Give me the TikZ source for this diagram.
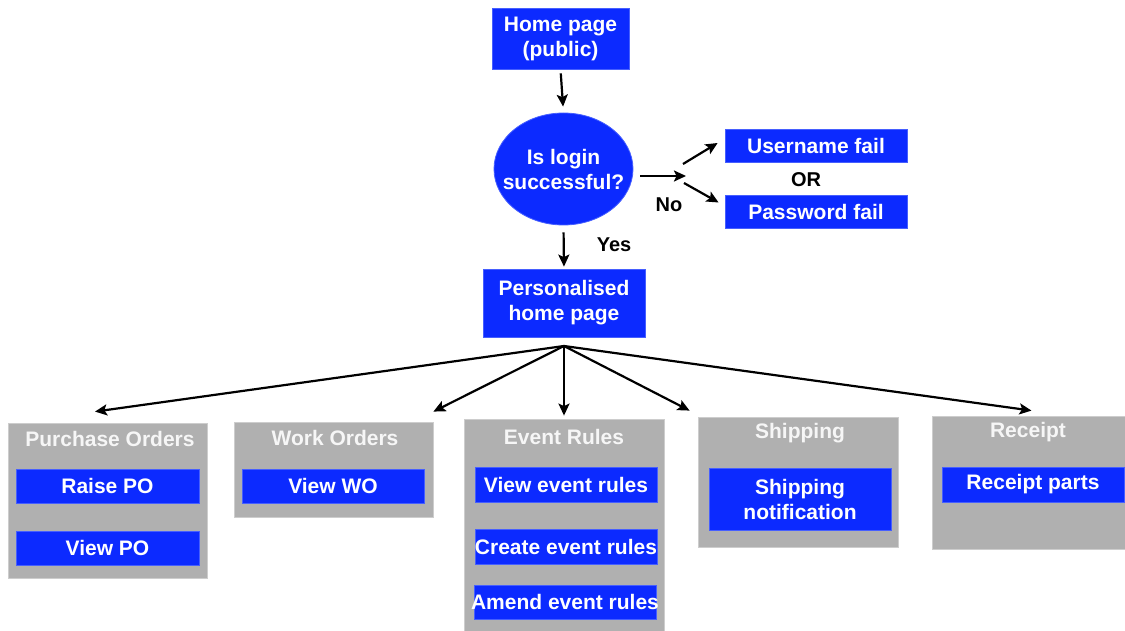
\documentclass[tikz,border=0pt]{standalone}
\usepackage{fontspec}
\setmainfont{Liberation Sans}
\usetikzlibrary{arrows.meta,shapes.geometric}
\definecolor{boxblue}{RGB}{12,42,255}
\definecolor{blueedge}{RGB}{70,95,255}
\definecolor{panelgray}{RGB}{176,176,176}
\definecolor{paneledge}{RGB}{205,205,205}
\definecolor{paneltitle}{RGB}{246,246,246}
\tikzset{
  blue box/.style={draw=blueedge, line width=0.8pt, fill=boxblue, text=white,
    font=\bfseries\fontsize{21}{25}\selectfont, align=center, inner sep=0pt},
  panel/.style={draw=paneledge, line width=0.8pt, fill=panelgray, inner sep=0pt},
  panel title/.style={text=paneltitle, font=\bfseries\fontsize{21}{25}\selectfont},
  tag/.style={text=black, font=\bfseries\fontsize{20}{24}\selectfont},
  arr/.style={line width=2.2pt, -{Stealth[length=12pt,width=11pt,inset=2.5pt]}}
}
% fixed-width label that may spill slightly past its box
\newcommand{\fitlabel}[1]{\makebox[182pt][c]{#1}}
\begin{document}
\begin{tikzpicture}[x=1pt,y=-1pt]
\useasboundingbox (0,0) rectangle (1125,631);

% login flow
\node[blue box, minimum width=137pt, minimum height=61pt] (home) at (560.5,38.5) {Home page\\(public)};
\node[draw=blueedge, line width=0.8pt, fill=boxblue, ellipse, inner sep=0pt,
      minimum width=139pt, minimum height=112pt] (login) at (563.5,169) {};
\node[text=white, font=\bfseries\fontsize{21}{25}\selectfont, align=center] (logintext) at (login.center) {Is login\\successful?};
\node[blue box, minimum width=182pt, minimum height=33pt] (user) at (816,145.5) {Username fail};
\node[blue box, minimum width=182pt, minimum height=33pt] (pass) at (816,211.5) {Password fail};
\node[tag] (or) at (806,180) {OR};
\node[tag] (no) at (669,205) {No};
\node[tag] (yes) at (614,245) {Yes};
\node[blue box, minimum width=162pt, minimum height=68pt] (pers) at (564,303) {Personalised\\home page};

\coordinate (fork) at (686,176);
\coordinate (hub) at (564,346);

\draw[arr, shorten <=4pt, shorten >=6pt] (home.south) -- (login.north);
\draw[arr] ([shift={(7,7)}]login.east) -- (fork);
\draw[arr] ([shift={(-3,-12)}]fork) -- ([shift={(-7,-2.5)}]user.west);
\draw[arr] ([shift={(-2,7)}]fork) -- ([shift={(-6,-9)}]pass.west);
\draw[arr, shorten <=7pt, shorten >=2pt] (login.south) -- (pers.north);

% section panels
\node[panel, minimum width=199pt, minimum height=155pt] (po) at (107.5,500.5) {};
\node[panel title] (potitle) at (110,439) {Purchase Orders};
\node[blue box, minimum width=183pt, minimum height=34pt] (raise) at (107.5,486) {Raise PO};
\node[blue box, minimum width=183pt, minimum height=34pt] (viewpo) at (107.5,548) {View PO};

\node[panel, minimum width=199pt, minimum height=95pt] (wo) at (333.5,469.5) {};
\node[panel title] (wotitle) at (335,438) {Work Orders};
\node[blue box, minimum width=182pt, minimum height=34pt] (viewwo) at (333,486) {View WO};

\node[panel, minimum width=200pt, minimum height=230pt] (ev) at (564,534) {};
\node[panel title] (evtitle) at (564,437) {Event Rules};
\node[blue box, minimum width=182pt, minimum height=35pt] (viewev) at (566,484.5) {\fitlabel{View event rules}};
\node[blue box, minimum width=182pt, minimum height=35pt] (createev) at (566,546.5) {\fitlabel{Create event rules}};
\node[blue box, minimum width=182pt, minimum height=34pt] (amendev) at (565,602) {\fitlabel{Amend event rules}};

\node[panel, minimum width=200pt, minimum height=130pt] (ship) at (798,482) {};
\node[panel title] (shiptitle) at (800,433) {Shipping};
\node[blue box, minimum width=182pt, minimum height=62pt] (shipnote) at (800,499) {Shipping\\notification};

\node[panel, minimum width=196pt, minimum height=133pt] (rc) at (1030,482.5) {};
\node[panel title] (rctitle) at (1028,432) {Receipt};
\node[blue box, minimum width=182pt, minimum height=35pt] (rcparts) at (1033,484.5) {Receipt parts};

% fan-out from the personalised home page
\draw[arr] (hub) -- ([shift={(-12.5,-11)}]po.north);
\draw[arr] (hub) -- ([shift={(0,-10)}]wo.north east);
\draw[arr] (hub) -- ([shift={(0,-3)}]ev.north);
\draw[arr] (hub) -- ([shift={(-8,-6)}]ship.north west);
\draw[arr] (hub) -- ([shift={(1.5,-5)}]rc.north);
\end{tikzpicture}
\end{document}
